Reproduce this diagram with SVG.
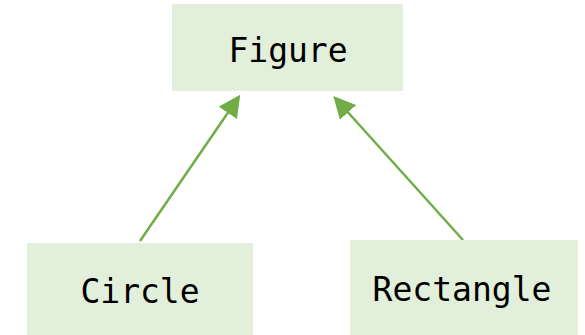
<svg xmlns="http://www.w3.org/2000/svg" width="585" height="335" viewBox="0 0 585 335">
  <style>
    .box { fill: #E2EFDA; }
    .label { font-family: "DejaVu Sans Mono", "Liberation Mono", monospace; font-size: 33px; fill: #000; text-anchor: middle; }
    .link { stroke: #70AD47; stroke-width: 2.5; fill: none; marker-end: url(#head); }
  </style>
  <defs>
    <marker id="head" markerUnits="userSpaceOnUse" markerWidth="22" markerHeight="22" refX="18" refY="11" orient="auto">
      <path d="M0,0 L22,11 L0,22 z" fill="#70AD47"/>
    </marker>
  </defs>
  <rect width="585" height="335" fill="#fff"/>

  <g id="connectors">
    <line class="link" x1="140" y1="241" x2="238" y2="98"/>
    <line class="link" x1="463" y1="240" x2="336" y2="99"/>
  </g>

  <g id="figure">
    <rect class="box" x="172" y="4" width="231" height="87"/>
    <text class="label" x="288" y="62">Figure</text>
  </g>

  <g id="circle">
    <rect class="box" x="27" y="243" width="226" height="92"/>
    <text class="label" x="140" y="303">Circle</text>
  </g>

  <g id="rectangle">
    <rect class="box" x="350" y="240" width="228" height="95"/>
    <text class="label" x="462" y="301">Rectangle</text>
  </g>
</svg>
